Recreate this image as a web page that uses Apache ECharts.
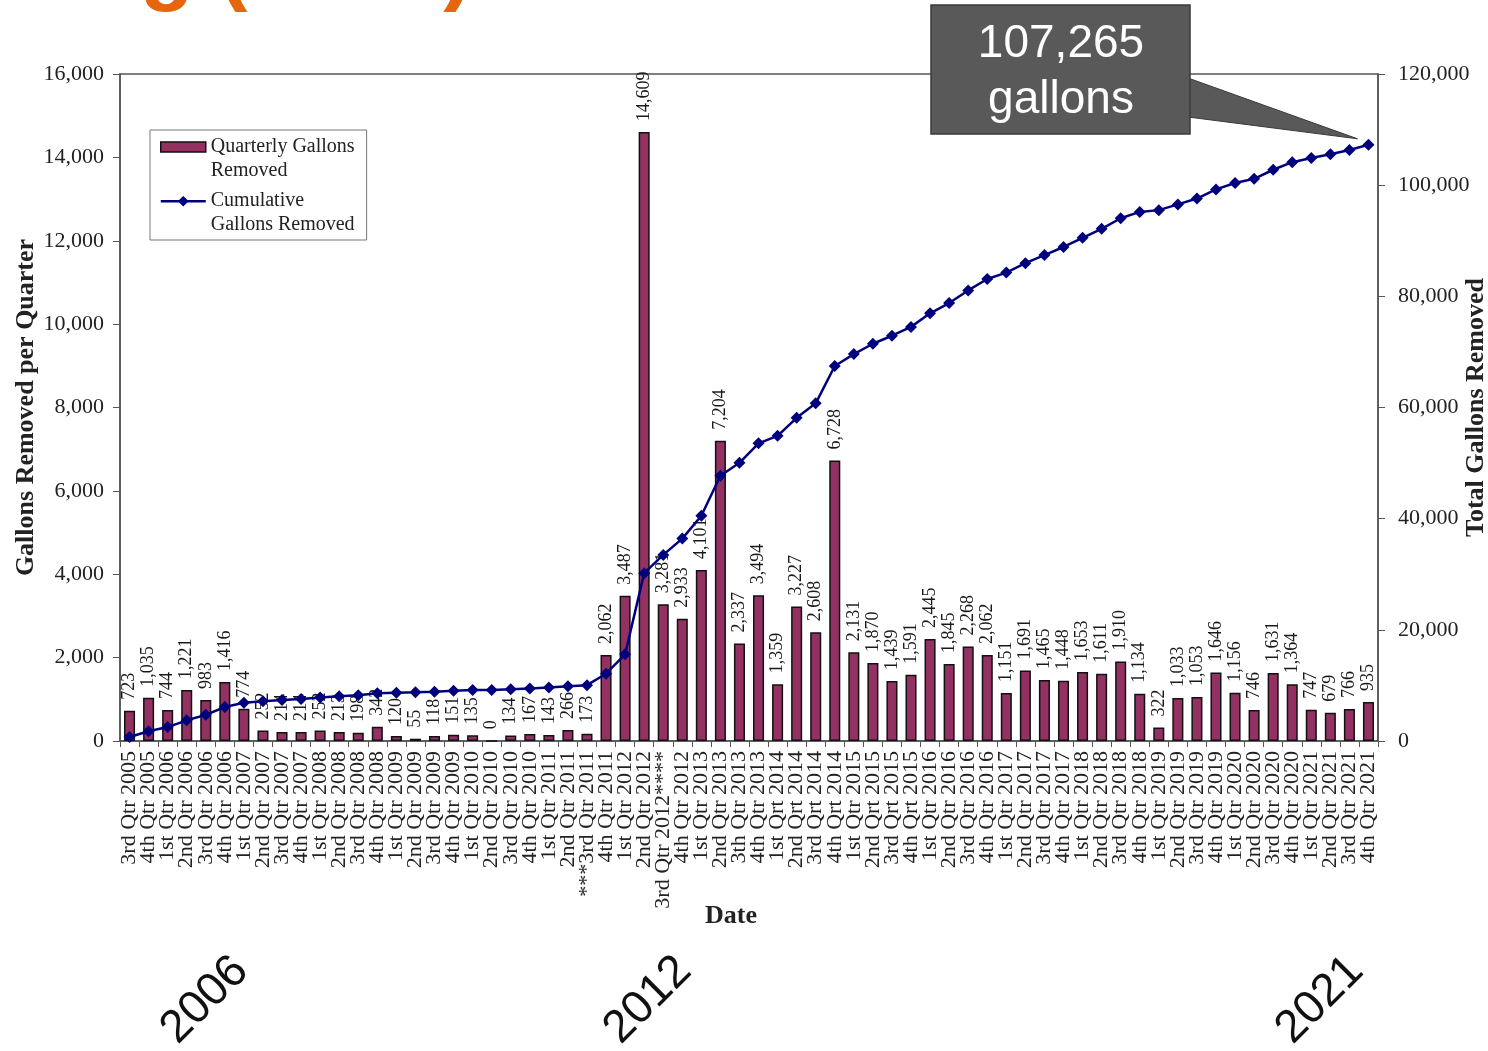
<!DOCTYPE html>
<html>
<head>
<meta charset="utf-8">
<script src="https://cdn.jsdelivr.net/npm/echarts@6/dist/echarts.min.js"></script>
<style>
  html, body { margin: 0; background: #fff; }
  #chart { width: 1488px; height: 1051px; }
</style>
</head>
<body>
<div id="chart"></div>
<script>
// quarters as printed on the original axis (typos kept)
const quarters = [
  "3rd Qtr 2005", "4th Qtr 2005",
  "1st Qtr 2006", "2nd Qtr 2006", "3rd Qtr 2006", "4th Qtr 2006",
  "1st Qtr 2007", "2nd Qtr 2007", "3rd Qtr 2007", "4th Qtr 2007",
  "1st Qtr 2008", "2nd Qtr 2008", "3rd Qtr 2008", "4th Qtr 2008",
  "1st Qtr 2009", "2nd Qtr 2009", "3rd Qtr 2009", "4th Qtr 2009",
  "1st Qtr 2010", "2nd Qtr 2010", "3rd Qtr 2010", "4th Qtr 2010",
  "1st Qtr 2011", "2nd Qtr 2011", "***3rd Qtr 2011", "4th Qtr 2011",
  "1st Qtr 2012", "2nd Qtr 2012", "3rd Qtr 2012****", "4th Qtr 2012",
  "1st Qtr 2013", "2nd Qtr 2013", "3th Qtr 2013", "4th Qtr 2013",
  "1st Qrt 2014", "2nd Qrt 2014", "3rd Qrt 2014", "4th Qrt 2014",
  "1st Qtr 2015", "2nd Qrt 2015", "3rd Qrt 2015", "4th Qrt 2015",
  "1st Qtr 2016", "2nd Qtr 2016", "3rd Qtr 2016", "4th Qtr 2016",
  "1st Qtr 2017", "2nd Qtr 2017", "3rd Qtr 2017", "4th Qtr 2017",
  "1st Qtr 2018", "2nd Qtr 2018", "3rd Qtr 2018", "4th Qtr 2018",
  "1st Qtr 2019", "2nd Qtr 2019", "3rd Qtr 2019", "4th Qtr 2019",
  "1st Qtr 2020", "2nd Qtr 2020", "3rd Qtr 2020", "4th Qtr 2020",
  "1st Qtr 2021", "2nd Qtr 2021", "3rd Qtr 2021", "4th Qtr 2021"
];

const quarterly = [
  723, 1035,
  744, 1221, 983, 1416,
  774, 252, 214, 214,
  252, 213, 198, 342,
  120, 55, 118, 151,
  135, 0, 134, 167,
  143, 266, 173, 2062,
  3487, 14609, 3281, 2933,
  4101, 7204, 2337, 3494,
  1359, 3227, 2608, 6728,
  2131, 1870, 1439, 1591,
  2445, 1845, 2268, 2062,
  1151, 1691, 1465, 1448,
  1653, 1611, 1910, 1134,
  322, 1033, 1053, 1646,
  1156, 746, 1631, 1364,
  747, 679, 766, 935
];

const cumulative = [
  723, 1758,
  2502, 3723, 4706, 6122,
  6896, 7148, 7362, 7576,
  7828, 8041, 8239, 8581,
  8701, 8756, 8874, 9025,
  9160, 9160, 9294, 9461,
  9604, 9870, 10043, 12105,
  15592, 30201, 33482, 36415,
  40516, 47720, 50057, 53551,
  54910, 58137, 60745, 67473,
  69604, 71474, 72913, 74504,
  76949, 78794, 81062, 83124,
  84275, 85966, 87431, 88879,
  90532, 92143, 94053, 95187,
  95509, 96542, 97595, 99241,
  100397, 101143, 102774, 104138,
  104885, 105564, 106330, 107265
];

const calloutText = "107,265\ngallons";
const yearMarks = ["2006", "2012", "2021"];

const SERIF = "'Liberation Serif', 'Times New Roman', serif";
const SANS = "'Liberation Sans', Arial, sans-serif";
const fmt = (v) => Number(v).toLocaleString("en-US");

// legend swatches sit on the first line of a two-line label: the trailing
// move-to stretches the icon box down to the second line
const barIcon = "path://M0,0h45v10h-45zM45,34";
const lineIcon = "path://M0,3.9h45v2.6h-45zM17,5.2l5.5,-5.2l5.5,5.2l-5.5,5.2zM45,34";

const chart = echarts.init(document.getElementById("chart"), null, { renderer: "canvas" });

chart.setOption({
  backgroundColor: "#fff",
  animation: false,
  grid: {
    left: 120, right: 110, top: 74, bottom: 310,
    outerBoundsMode: "none",
    containLabel: false,
    show: true, borderColor: "#555", borderWidth: 1.5, backgroundColor: "transparent"
  },
  legend: {
    orient: "vertical",
    left: 150, top: 130,
    padding: [5, 12, 3, 10],
    itemGap: 6,
    itemWidth: 45, itemHeight: 34,
    backgroundColor: "#fff",
    borderColor: "#777", borderWidth: 1,
    textStyle: { fontFamily: SERIF, fontSize: 20, color: "#222", lineHeight: 24 },
    formatter: (name) => name === "Quarterly Gallons Removed" ? "Quarterly Gallons\nRemoved" : "Cumulative\nGallons Removed",
    data: [
      { name: "Quarterly Gallons Removed", icon: barIcon, itemStyle: { color: "#933162", borderColor: "#111", borderWidth: 1.5 } },
      { name: "Cumulative Gallons Removed", icon: lineIcon, itemStyle: { color: "#00007f", borderWidth: 0 } }
    ]
  },
  xAxis: {
    type: "category",
    data: quarters,
    name: "Date",
    nameLocation: "middle",
    nameGap: 162,
    nameMoveOverlap: false,
    nameTextStyle: { fontFamily: SERIF, fontSize: 26, fontWeight: "bold", color: "#222", padding: [0, 36, 0, 0] },
    axisLine: { lineStyle: { color: "#555", width: 1.5 } },
    axisTick: { show: true, length: 6, lineStyle: { color: "#555" } },
    axisLabel: { interval: 0, rotate: 90, margin: 10, fontFamily: SERIF, fontSize: 22, color: "#222" }
  },
  yAxis: [
    {
      type: "value", min: 0, max: 16000, interval: 2000,
      name: "Gallons Removed per Quarter",
      nameLocation: "middle", nameGap: 81, nameRotate: 90, nameMoveOverlap: false,
      nameTextStyle: { fontFamily: SERIF, fontSize: 26, fontWeight: "bold", color: "#222" },
      axisLine: { show: true, lineStyle: { color: "#555", width: 1.5 } },
      axisTick: { show: true, length: 7, lineStyle: { color: "#555" } },
      axisLabel: { fontFamily: SERIF, fontSize: 22, color: "#222", margin: 16, formatter: fmt },
      splitLine: { show: false }
    },
    {
      type: "value", min: 0, max: 120000, interval: 20000,
      name: "Total Gallons Removed",
      nameLocation: "middle", nameGap: 85, nameRotate: 90, nameMoveOverlap: false,
      nameTextStyle: { fontFamily: SERIF, fontSize: 26, fontWeight: "bold", color: "#222" },
      axisLine: { show: true, lineStyle: { color: "#555", width: 1.5 } },
      axisTick: { show: true, length: 7, lineStyle: { color: "#555" } },
      axisLabel: { fontFamily: SERIF, fontSize: 22, color: "#222", margin: 20, formatter: fmt },
      splitLine: { show: false }
    }
  ],
  series: [
    {
      name: "Quarterly Gallons Removed",
      type: "bar",
      data: quarterly,
      barWidth: "58%",
      itemStyle: { color: "#933162", borderColor: "#111", borderWidth: 1.5 },
      label: {
        show: true, position: "top", rotate: 90, align: "left", verticalAlign: "middle",
        distance: 11, fontFamily: SERIF, fontSize: 18, color: "#1a1a1a",
        formatter: (p) => fmt(p.value)
      },
      z: 2
    },
    {
      name: "Cumulative Gallons Removed",
      type: "line",
      yAxisIndex: 1,
      data: cumulative,
      symbol: "diamond",
      symbolSize: 12,
      lineStyle: { color: "#00007f", width: 2.5 },
      itemStyle: { color: "#00007f" },
      z: 3
    }
  ]
});

// callout box pointing to the last cumulative point, plus year annotations
const last = cumulative.length - 1;
const tip = chart.convertToPixel({ seriesIndex: 1 }, [last, cumulative[last]]);
const yearX = [205, 648, 1320];

chart.setOption({
  graphic: [
    {
      type: "text", left: 140, top: -74, z: 10,
      style: { text: "g (2021)", font: "bold 88px " + SANS, fill: "#e4660f" }
    },
    {
      type: "polygon", z: 10,
      shape: { points: [[1188, 78], [tip[0] - 11, tip[1] - 6], [1188, 117]] },
      style: { fill: "#595959", stroke: "#3a3a3a", lineWidth: 1 }
    },
    {
      type: "rect", z: 11,
      shape: { x: 931, y: 5, width: 259, height: 129 },
      style: { fill: "#595959", stroke: "#3a3a3a", lineWidth: 1.5 }
    },
    {
      type: "text", x: 1061, y: 72, z: 12,
      style: {
        text: calloutText, font: "46px " + SANS, fill: "#fff",
        align: "center", verticalAlign: "middle", lineHeight: 56
      }
    }
  ].concat(yearMarks.map((y, i) => ({
    type: "text", x: yearX[i], y: 1000, rotation: Math.PI / 4, z: 10,
    style: { text: y, font: "46px " + SANS, fill: "#111", align: "center", verticalAlign: "middle" }
  })))
});
</script>
</body>
</html>
